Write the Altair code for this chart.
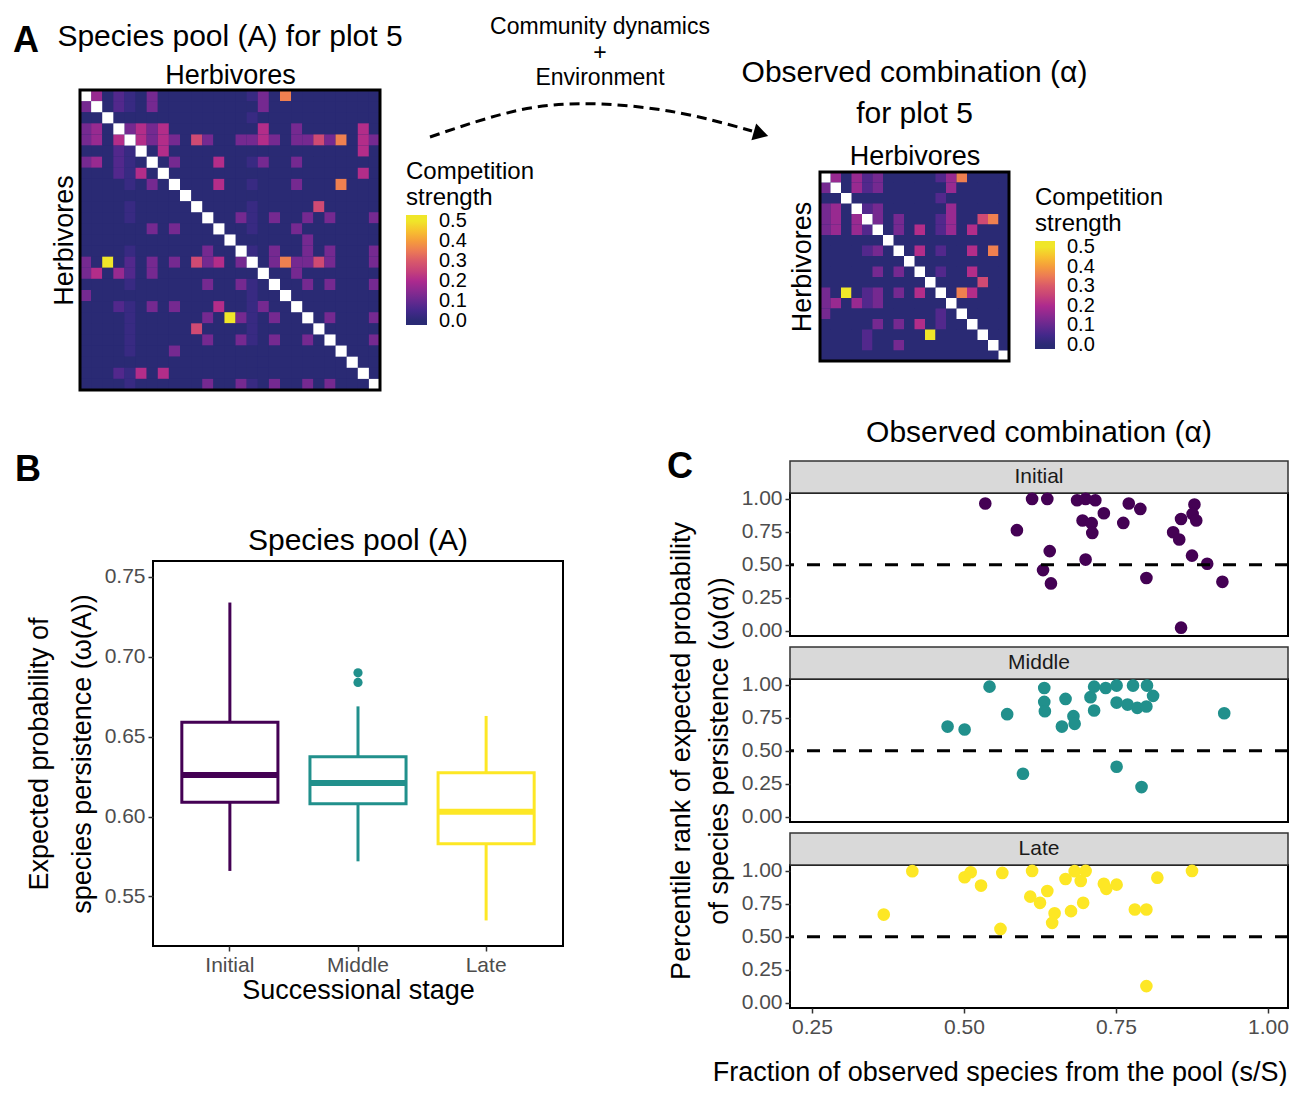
import altair as alt
import pandas as pd

FONT = "Liberation Sans"

# ---------------- Panel A : competition matrices (cell codes) ----------------
CODE_VALUE = {".": 0.0, "v": 0.03, "u": 0.07, "p": 0.12, "q": 0.17,
              "m": 0.21, "r": 0.27, "o": 0.36, "y": 0.5}

pool_rows = [
    "xq.uv.p........vp.o........",
    "px.uv.p.........p..........",
    "..x............v...........",
    "pq.xpmpm........m..p.....m.",
    "pq.mxmpmp.rp..ppmp.pprpo.mp",
    "...uvx.m.................m.",
    "pq.uv.x.p...m..vp..p.......",
    "...uvm.x.................m.",
    "....v.p.x...m..v...p...o...",
    ".........x.................",
    "....v.....x....v.....r.....",
    "....v......x..pv.p..p.p...p",
    "......p.p...x..v...p.......",
    ".............x......p......",
    "....v......p..xv.p..p.p...p",
    "p.y.u.p.p.rpm.px.popprp...p",
    "pm.qu.p.........x..p.......",
    "....v......p..pv.x..p.p...p",
    "p..............v..x........",
    "...uv.p.p...m..vp..x.......",
    "....v......p.ypv.p..x.p...p",
    "....v.....r....v.....x.....",
    "....v......p..pv.p..p.x...p",
    "....v...p..............x...",
    "........................x..",
    "...uvm.m.................x.",
    "....v......p..pv.p..p.p...x",
]

obs_rows = [
    "xq.qup.....uqo....",
    "px.qup......q.....",
    "..x........u......",
    "pq.xup......q.....",
    "pq.qxp.p...uq..ro.",
    "pq.qux.p.m.uq.m...",
    "......x...........",
    "....up.x.m.u..m.o.",
    "........x.........",
    ".....p.p.x.u..m...",
    "..........x....r..",
    "p.y.up.p.m.x.om...",
    "pq.qup......x.....",
    "p..........u.x....",
    ".....p.p.m.u..x...",
    "....u.....y....x..",
    "....u..p........x.",
    ".................x",
]

strength_stops = [-0.02, 0.0, 0.05, 0.1, 0.15, 0.2, 0.25, 0.3, 0.35, 0.4, 0.45, 0.5, 0.53]
strength_colors = ["#2a2a74", "#2a2a74", "#43288a", "#66298f", "#8a2a90", "#ad2a8e", "#c64279",
                   "#d9596a", "#ec7a55", "#f59c3c", "#f7c12f", "#f0e629", "#f0e629"]
legend_values = [0.0, 0.1, 0.2, 0.3, 0.4, 0.5]
BACKGROUND_CELL = "#2a2a74"

# ---------------- Panel B : box plot summaries ----------------
stages = ["Initial", "Middle", "Late"]
stage_colors = ["#440154", "#21908C", "#FDE725"]
box_lo = [0.566, 0.572, 0.535]
box_q1 = [0.609, 0.608, 0.583]
box_med = [0.626, 0.621, 0.603]
box_q3 = [0.659, 0.6375, 0.6275]
box_hi = [0.734, 0.669, 0.663]
outlier_stage = ["Middle", "Middle"]
outlier_val = [0.690, 0.684]

# ---------------- Panel C : observed combinations ----------------
init_frac = [0.535, 0.612, 0.637, 0.686, 0.700, 0.716, 0.587, 0.695, 0.710, 0.711, 0.730,
             0.771, 0.790, 0.762, 0.641, 0.630, 0.643, 0.700, 0.800, 0.857, 0.879, 0.876,
             0.882, 0.844, 0.854, 0.875, 0.900, 0.925, 0.857]
init_rank = [0.965, 1.0, 1.0, 0.99, 1.0, 0.99, 0.763, 0.836, 0.816, 0.742, 0.891,
             0.965, 0.924, 0.818, 0.604, 0.46, 0.359, 0.54, 0.40, 0.848, 0.957, 0.886,
             0.836, 0.747, 0.692, 0.57, 0.508, 0.371, 0.023]
mid_frac = [0.542, 0.632, 0.632, 0.633, 0.667, 0.571, 0.473, 0.501, 0.661, 0.680, 0.682,
            0.708, 0.714, 0.714, 0.733, 0.751, 0.751, 0.778, 0.801, 0.811, 0.769, 0.785,
            0.800, 0.928, 0.597, 0.751, 0.792]
mid_rank = [0.987, 0.977, 0.871, 0.80, 0.894, 0.778, 0.684, 0.662, 0.684, 0.763, 0.705,
            0.907, 0.987, 0.806, 0.977, 0.995, 0.866, 0.995, 0.995, 0.917, 0.851, 0.826,
            0.836, 0.785, 0.326, 0.379, 0.225]
late_frac = [0.415, 0.368, 0.501, 0.511, 0.528, 0.563, 0.560, 0.612, 0.609, 0.625, 0.637,
             0.649, 0.645, 0.667, 0.682, 0.692, 0.700, 0.676, 0.696, 0.730, 0.734, 0.751,
             0.781, 0.800, 0.818, 0.875, 0.800]
late_rank = [0.998, 0.669, 0.952, 0.99, 0.889, 0.985, 0.56, 1.0, 0.805, 0.758, 0.848,
             0.679, 0.606, 0.939, 0.998, 0.924, 1.0, 0.695, 0.758, 0.902, 0.864, 0.896,
             0.707, 0.707, 0.949, 1.0, 0.126]

# Annotation arrow (local units of the arrow panel)
arrow_x = [50, 140, 220, 300, 372]
arrow_y = [47, 20, 14, 23, 41]
arrow_head_x = [381]
arrow_head_y = [44]

FACET_W = 498


def matrix_frames(rows, n):
    cells, diag = [], []
    for i, row in enumerate(rows):
        row = row[:n].ljust(n, ".")
        for j, ch in enumerate(row):
            if ch == "x":
                diag.append({"row": i, "col": j})
            else:
                cells.append({"row": i, "col": j, "val": CODE_VALUE.get(ch, 0.0)})
    return pd.DataFrame(cells), pd.DataFrame(diag)


def strength_legend(lx, ly, glen, gthick):
    return alt.Legend(type="gradient", title=["Competition", "strength"], orient="none",
                      legendX=lx, legendY=ly, direction="vertical",
                      values=legend_values, format=".1f",
                      gradientLength=glen, gradientThickness=gthick,
                      gradientStrokeWidth=0,
                      titleFontSize=24, titleFontWeight="normal",
                      titleLineHeight=26, titlePadding=5,
                      titleColor="black", labelColor="black",
                      labelFontSize=20, labelOffset=12, labelOverlap=False)


def text_label(lab, lx, ly):
    return alt.Chart(pd.DataFrame({"t": [lab]})).mark_text(
        fontSize=36, fontWeight="bold", align="left", baseline="alphabetic",
        color="black").encode(text="t:N", x=alt.value(lx), y=alt.value(ly))


def heat_layers(rows, n, xscale, yscale, xaxis, yaxis, legend, x0, x1, y0, y1):
    cells, diag = matrix_frames(rows, n)
    one = pd.DataFrame({"k": [0]})
    bg = alt.Chart(one).mark_rect(color=BACKGROUND_CELL).encode(
        x=alt.value(x0), x2=alt.value(x1), y=alt.value(y0), y2=alt.value(y1))
    main = alt.Chart(cells).mark_rect().encode(
        x=alt.X("col:O", scale=xscale, axis=xaxis),
        y=alt.Y("row:O", scale=yscale, axis=yaxis),
        color=alt.Color("val:Q", scale=alt.Scale(domain=strength_stops, range=strength_colors),
                        legend=legend))
    dg = alt.Chart(diag).mark_rect(color="white").encode(
        x=alt.X("col:O", scale=xscale, axis=xaxis),
        y=alt.Y("row:O", scale=yscale, axis=yaxis))
    border = alt.Chart(one).mark_rect(fill="transparent", stroke="black", strokeWidth=3).encode(
        x=alt.value(x0), x2=alt.value(x1), y=alt.value(y0), y2=alt.value(y1))
    return alt.layer(bg, main, dg, border)


# ---- A: species pool heatmap (plot drawn from local x -73 to 227)
heatA = heat_layers(
    pool_rows, 27,
    alt.Scale(range=[-73, 227], paddingInner=0, paddingOuter=0),
    alt.Scale(paddingInner=0, paddingOuter=0),
    alt.Axis(orient="top", labels=False, ticks=False, domain=False,
             title="Herbivores", titlePadding=1, titleX=77),
    alt.Axis(labels=False, ticks=False, domain=False, title="Herbivores",
             titlePadding=2, offset=73),
    strength_legend(253, 70, 110, 21), -73, 227, 0, 300,
).properties(
    width=227, height=300,
    title=alt.Title("Species pool (A) for plot 5", fontSize=30, offset=9, frame="group", dx=-36.5))

# ---- A: observed combination heatmap (drawn from local y 82 to 271)
heatB = heat_layers(
    obs_rows, 18,
    alt.Scale(paddingInner=0, paddingOuter=0),
    alt.Scale(range=[82, 271], paddingInner=0, paddingOuter=0),
    alt.Axis(orient="top", labels=False, ticks=False, domain=False,
             title="Herbivores", titleY=80),
    alt.Axis(labels=False, ticks=False, domain=False, title="Herbivores",
             titlePadding=4, titleY=176.5),
    strength_legend(215, 96, 108, 20), 0, 189, 82, 271,
).properties(
    width=189, height=272,
    title=alt.Title(["Observed combination (α)", "for plot 5"], fontSize=30, lineHeight=41,
                    offset=0, dy=39, frame="group"))

# ---- arrow panel
adf = pd.DataFrame({"ax": arrow_x, "ay": arrow_y})
hdf = pd.DataFrame({"ax": arrow_head_x, "ay": arrow_head_y})
ax_s = alt.Scale(domain=[0, 440], nice=False, zero=False)
ay_s = alt.Scale(domain=[60, 0], nice=False, zero=False)
arrow_line = alt.Chart(adf).mark_line(interpolate="natural", strokeDash=[10, 6],
                                      strokeWidth=3, color="black").encode(
    x=alt.X("ax:Q", scale=ax_s, axis=None), y=alt.Y("ay:Q", scale=ay_s, axis=None))
arrow_head = alt.Chart(hdf).mark_point(shape="triangle-right", filled=True, size=300,
                                       angle=16, color="black", opacity=1).encode(
    x=alt.X("ax:Q", scale=ax_s, axis=None), y=alt.Y("ay:Q", scale=ay_s, axis=None))
arrow = alt.layer(arrow_line, arrow_head).properties(
    width=440, height=60,
    title=alt.Title(["Community dynamics", "+", "Environment"], fontSize=23, lineHeight=25.5,
                    offset=0, frame="group"))

labelA = text_label("A", -996, -38).properties(width=0, height=0)

topRow = alt.hconcat(heatA, arrow, heatB, labelA, spacing=0, bounds="flush").resolve_scale(
    color="independent").resolve_legend(color="independent")

# ---- B: box plot
box_df = pd.DataFrame({"stage": stages, "lo": box_lo, "q1": box_q1, "med": box_med,
                       "q3": box_q3, "hi": box_hi})
out_df = pd.DataFrame({"stage": outlier_stage, "q1": outlier_val})
yB = alt.Scale(domain=[0.519, 0.76], nice=False, zero=False)
axB = alt.Axis(values=[0.55, 0.6, 0.65, 0.7, 0.75], format=".2f",
               title=["Expected probability of", "species persistence (ω(A))"],
               titleLineHeight=43, titlePadding=8)
xB = alt.X("stage:N", sort=stages, scale=alt.Scale(paddingInner=0, paddingOuter=0.1),
           axis=alt.Axis(title="Successional stage", labelAngle=0, titlePadding=2))
cB = alt.Scale(domain=stages, range=stage_colors)
whisk_lo = alt.Chart(box_df).mark_rule(strokeWidth=3, opacity=1).encode(
    x=xB, y=alt.Y("lo:Q", scale=yB, axis=axB), y2="q1:Q",
    color=alt.Color("stage:N", scale=cB, legend=None))
whisk_hi = alt.Chart(box_df).mark_rule(strokeWidth=3, opacity=1).encode(
    x=xB, y=alt.Y("q3:Q", scale=yB, axis=axB), y2="hi:Q",
    color=alt.Color("stage:N", scale=cB, legend=None))
boxes = alt.Chart(box_df).mark_bar(fill="white", strokeWidth=3, opacity=1,
                                   width={"band": 0.75}).encode(
    x=xB, y=alt.Y("q1:Q", scale=yB, axis=axB), y2="q3:Q",
    stroke=alt.Stroke("stage:N", scale=cB, legend=None))
medians = alt.Chart(box_df).mark_tick(thickness=6, size=96, opacity=1).encode(
    x=xB, y=alt.Y("med:Q", scale=yB, axis=axB),
    color=alt.Color("stage:N", scale=cB, legend=None))
outliers = alt.Chart(out_df).mark_circle(size=85, opacity=1).encode(
    x=xB, y=alt.Y("q1:Q", scale=yB, axis=axB),
    color=alt.Color("stage:N", scale=cB, legend=None))
boxB = alt.layer(whisk_lo, whisk_hi, boxes, medians, outliers).properties(
    width=410, height=385,
    title=alt.Title("Species pool (A)", fontSize=30, offset=5, frame="group"),
    view=alt.ViewBackground(stroke="black", strokeWidth=2))

labelB = text_label("B", -138, -12).properties(width=0, height=0)
leftCol = alt.vconcat(labelB, boxB, spacing=12)


# ---- C: facets
def facet_panel(frac, rank, stage, color, x_axis, y_title, title=None, label=None):
    df = pd.DataFrame({"frac": frac, "rank": rank})
    xs = alt.Scale(domain=[0.2138, 1.0329], nice=False, zero=False)
    ys = alt.Scale(domain=[-0.04, 1.045], nice=False, zero=False)
    yaxis = alt.Axis(values=[0, 0.25, 0.5, 0.75, 1.0], format=".2f", title=y_title,
                     titleLineHeight=38, titlePadding=8)
    pts = alt.Chart(df).mark_circle(size=160, opacity=1, color=color).encode(
        x=alt.X("frac:Q", scale=xs, axis=x_axis),
        y=alt.Y("rank:Q", scale=ys, axis=yaxis))
    rule = alt.Chart(pd.DataFrame({"rank": [0.5]})).mark_rule(
        color="black", strokeWidth=3, strokeDash=[13, 13]).encode(
        y=alt.Y("rank:Q", scale=ys, axis=yaxis))
    sdf = pd.DataFrame({"stage": [stage]})
    strip = alt.Chart(sdf).mark_rect(fill="#d9d9d9", stroke="#333333", strokeWidth=1.5).encode(
        x=alt.value(0), x2=alt.value(FACET_W), y=alt.value(-32), y2=alt.value(0))
    strip_text = alt.Chart(sdf).mark_text(fontSize=21, color="#1a1a1a").encode(
        text="stage:N", x=alt.value(FACET_W / 2), y=alt.value(-16))
    layers = [strip, strip_text, pts, rule]
    if label is not None:
        layers.append(text_label(label, -123, -15))
    props = dict(width=FACET_W, height=143, view=alt.ViewBackground(stroke="black", strokeWidth=2))
    if title is not None:
        props["title"] = alt.Title(title, fontSize=30, offset=1, frame="group")
    return alt.layer(*layers).properties(**props)


facetI = facet_panel(init_frac, init_rank, "Initial", stage_colors[0], None, None,
                     "Observed combination (α)", "C")
facetM = facet_panel(mid_frac, mid_rank, "Middle", stage_colors[1], None,
                     ["Percentile rank of expected probability", "of species persistence (ω(α))"])
facetL = facet_panel(late_frac, late_rank, "Late", stage_colors[2],
                     alt.Axis(values=[0.25, 0.5, 0.75, 1.0], format=".2f",
                              title="Fraction of observed species from the pool (s/S)",
                              titlePadding=22, titleX=FACET_W - 1, titleAlign="right"),
                     None)
facetCol = alt.vconcat(facetI, facetM, facetL, spacing=43, bounds="flush")

bottomRow = alt.hconcat(leftCol, facetCol, spacing=102)

chart = alt.vconcat(topRow, bottomRow, spacing=25).resolve_scale(
    color="independent", stroke="independent").resolve_legend(color="independent").properties(
    padding={"left": 5, "top": 8, "right": 0, "bottom": 0}
).configure(font=FONT).configure_axis(
    labelFont=FONT, titleFont=FONT, labelFontSize=21, labelColor="#4d4d4d",
    titleFontSize=27, titleFontWeight="normal", titleColor="black",
    tickColor="#333333", tickWidth=1.5, tickSize=5, grid=False, domain=False, labelPadding=3
).configure_title(font=FONT, fontWeight="normal", color="black").configure_legend(
    labelFont=FONT, titleFont=FONT
).configure_view(strokeWidth=0)

chart.save("out.html", embed_options={"renderer": "svg", "actions": False})
